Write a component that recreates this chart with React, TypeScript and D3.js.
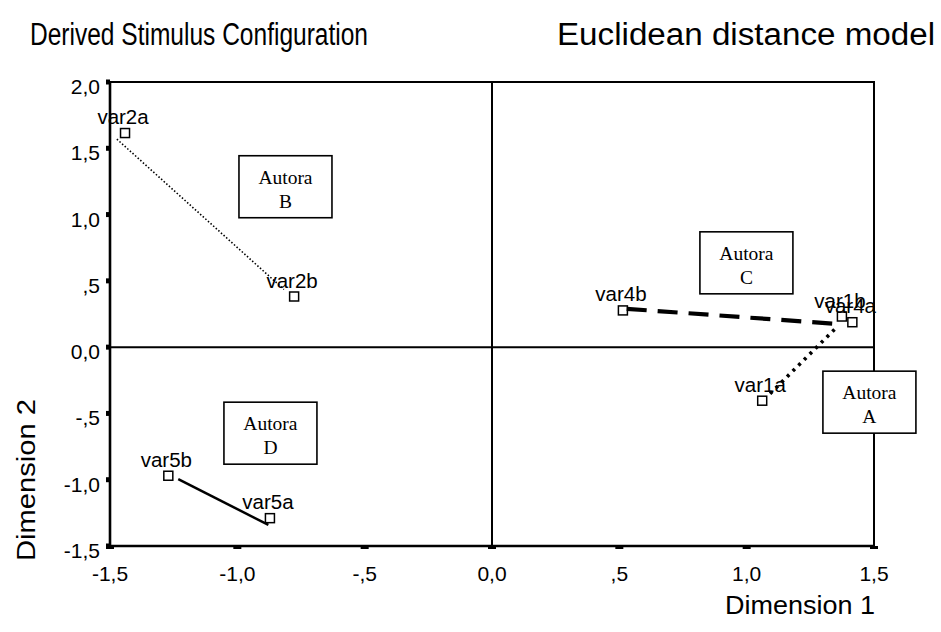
import React from "react";
import * as d3 from "d3";

// ---- data ----
const pointNames = ["var1a", "var1b", "var2a", "var2b", "var4a", "var4b", "var5a", "var5b"];
const dim1 = [1.061, 1.374, -1.441, -0.777, 1.415, 0.514, -0.872, -1.271];
const dim2 = [-0.404, 0.231, 1.615, 0.382, 0.188, 0.277, -1.29, -0.97];

// connector lines (start / end in data coordinates)
const linkFromX = [-1.473, 0.529, 1.092, -1.232];
const linkFromY = [1.569, 0.289, -0.351, -0.995];
const linkToX = [-0.817, 1.347, 1.355, -0.878];
const linkToY = [0.435, 0.176, 0.153, -1.341];

// author boxes (centres in data coordinates)
const boxLetters = ["A", "B", "C", "D"];
const boxX = [1.482, -0.811, 0.999, -0.87];
const boxY = [-0.415, 1.21, 0.636, -0.649];

const xTicks = [-1.5, -1, -0.5, 0, 0.5, 1, 1.5];
const xTickLabels = ["-1,5", "-1,0", "-,5", "0,0", ",5", "1,0", "1,5"];
const yTicks = [2, 1.5, 1, 0.5, 0, -0.5, -1, -1.5];
const yTickLabels = ["2,0", "1,5", "1,0", ",5", "0,0", "-,5", "-1,0", "-1,5"];

// ---- styles ----
const linkStyles = [
  { w: 1.6, dash: "1.5,2" },
  { w: 4.2, dash: "20,11" },
  { w: 3.6, dash: "3,5" },
  { w: 2.5, dash: "none" },
];

const SANS = "'Liberation Sans', Arial, Helvetica, sans-serif";
const NARROW = "'Liberation Sans Narrow', 'Liberation Sans', Arial, sans-serif";
const SERIF = "'Liberation Serif', 'Times New Roman', serif";

export default function App() {
  const W = 941;
  const H = 632;
  const x = d3.scaleLinear().domain([-1.5, 1.5]).range([110, 874]);
  const y = d3.scaleLinear().domain([-1.5, 2]).range([546, 82]);
  const [x0, x1] = x.range();
  const [y0, y1] = y.range();

  const boxW = 93;
  const boxH = 62;

  return (
    <svg
      width={W}
      height={H}
      style={{ position: "absolute", left: 0, top: 0, background: "#fff" }}
      xmlns="http://www.w3.org/2000/svg"
    >
      <rect x={0} y={0} width={W} height={H} fill="#fff" />
      {/* titles */}
      <text x={30} y={45} fontFamily={NARROW} fontSize={31} textLength={338} lengthAdjust="spacingAndGlyphs" fill="#000">
        Derived Stimulus Configuration
      </text>
      <text x={557} y={45} fontFamily={SANS} fontSize={31} textLength={378} lengthAdjust="spacingAndGlyphs" fill="#000">
        Euclidean distance model
      </text>

      {/* frame */}
      <line x1={x0} x2={x1} y1={y1} y2={y1} stroke="#000" strokeWidth={2} />
      <line x1={x1} x2={x1} y1={y1 - 1} y2={y0} stroke="#000" strokeWidth={2} />
      {/* zero lines */}
      <line x1={x0} x2={x1} y1={y(0)} y2={y(0)} stroke="#000" strokeWidth={2} />
      <line x1={x(0)} x2={x(0)} y1={y1} y2={y0} stroke="#000" strokeWidth={2} />
      {/* axes */}
      <line x1={x0} x2={x0} y1={y1 - 1} y2={y0 + 1} stroke="#000" strokeWidth={2.6} />
      <line x1={x0 - 1} x2={x1 + 1} y1={y0} y2={y0} stroke="#000" strokeWidth={2.6} />

      {/* y ticks */}
      {yTicks.map((t, i) => (
        <g key={"yt" + i}>
          <rect x={x0 - 4} y={y(t) - 2.5} width={4} height={5} fill="#000" />
          <text x={100} y={y(t) + 12} textAnchor="end" fontFamily={SANS} fontSize={21} fill="#000">
            {yTickLabels[i]}
          </text>
        </g>
      ))}
      {/* x ticks */}
      {xTicks.map((t, i) => (
        <g key={"xt" + i}>
          <rect x={x(t) - 4} y={y0} width={8} height={3} fill="#000" />
          <text x={x(t)} y={581} textAnchor="middle" fontFamily={SANS} fontSize={21} fill="#000">
            {xTickLabels[i]}
          </text>
        </g>
      ))}

      {/* axis titles */}
      <text x={725} y={614} fontFamily={SANS} fontSize={25} textLength={150} lengthAdjust="spacingAndGlyphs" fill="#000">
        Dimension 1
      </text>
      <text
        transform={`translate(35,${561}) rotate(-90)`}
        fontFamily={SANS}
        fontSize={25}
        textLength={162}
        lengthAdjust="spacingAndGlyphs"
        fill="#000"
      >
        Dimension 2
      </text>

      {/* markers */}
      {pointNames.map((n, i) => (
        <rect
          key={"m" + n}
          x={x(dim1[i]) - 4.5}
          y={y(dim2[i]) - 4.5}
          width={9}
          height={9}
          fill="#fff"
          stroke="#000"
          strokeWidth={1.5}
        />
      ))}

      {/* connector lines */}
      {linkFromX.map((_, i) => (
        <line
          key={"l" + i}
          x1={x(linkFromX[i])}
          y1={y(linkFromY[i])}
          x2={x(linkToX[i])}
          y2={y(linkToY[i])}
          stroke="#000"
          strokeWidth={linkStyles[i].w}
          strokeDasharray={linkStyles[i].dash}
        />
      ))}

      {/* point labels */}
      {pointNames.map((n, i) => (
        <text
          key={"t" + n}
          x={x(dim1[i]) - 2}
          y={y(dim2[i]) - 9}
          textAnchor="middle"
          fontFamily={SANS}
          fontSize={20.5}
          fill="#000"
        >
          {n}
        </text>
      ))}

      {/* author boxes */}
      {boxLetters.map((b, i) => {
        const cx = x(boxX[i]);
        const cy = y(boxY[i]);
        return (
          <g key={"b" + b}>
            <rect
              x={cx - boxW / 2}
              y={cy - boxH / 2}
              width={boxW}
              height={boxH}
              fill="#fff"
              stroke="#000"
              strokeWidth={1.6}
            />
            <text x={cx} y={cy - 3} textAnchor="middle" fontFamily={SERIF} fontSize={19.5} fill="#000">
              Autora
            </text>
            <text x={cx} y={cy + 21} textAnchor="middle" fontFamily={SERIF} fontSize={19.5} fill="#000">
              {b}
            </text>
          </g>
        );
      })}
    </svg>
  );
}
